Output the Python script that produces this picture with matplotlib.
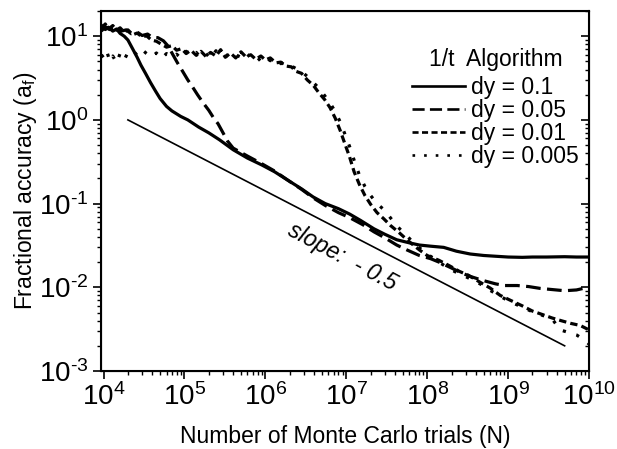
import matplotlib
matplotlib.use("Agg")
import matplotlib.pyplot as plt
from matplotlib.ticker import FixedLocator, NullFormatter, FuncFormatter
import numpy as np

plt.rcParams['font.family'] = ['Liberation Sans', 'DejaVu Sans']
plt.rcParams['mathtext.fontset'] = 'custom'
plt.rcParams['mathtext.rm'] = 'Liberation Sans'
plt.rcParams['mathtext.it'] = 'Liberation Sans:italic'
plt.rcParams['axes.unicode_minus'] = False

# dy = 0.1  (solid)
x_a = [9.4e3, 1.05e4, 1.15e4, 1.3e4, 1.45e4, 1.6e4, 1.8e4, 2.0e4, 2.3e4, 2.6e4, 2.9e4, 3.3e4, 3.8e4,
       4.4e4, 5.0e4, 6.0e4, 7.0e4, 9.0e4, 1.1e5, 1.5e5, 2.0e5, 2.7e5, 4.0e5, 6.0e5, 9.0e5, 1.3e6,
       1.9e6, 2.8e6, 3.9e6, 5.5e6, 8.0e6, 1.1e7, 1.5e7, 2.2e7, 3.0e7, 4.2e7, 6.0e7, 8.0e7, 1.1e8,
       1.6e8, 2.3e8, 3.4e8, 5.0e8, 7.0e8, 1.0e9, 1.5e9, 2.0e9, 3.0e9, 5.0e9, 7.0e9, 1.0e10]
y_a = [13.5, 12.0, 12.8, 11.5, 12.2, 10.8, 10.0, 9.0, 7.0, 5.6, 4.5, 3.6, 2.8,
       2.2, 1.8, 1.45, 1.28, 1.1, 1.0, 0.82, 0.70, 0.58, 0.44, 0.35, 0.29, 0.24,
       0.19, 0.15, 0.12, 0.10, 0.087, 0.075, 0.063, 0.050, 0.043, 0.037, 0.034, 0.032, 0.031,
       0.030, 0.027, 0.025, 0.024, 0.0235, 0.023, 0.0228, 0.023, 0.023, 0.0232, 0.023, 0.023]

# dy = 0.05  (dashed)
x_b = [9.4e3, 1.05e4, 1.2e4, 1.4e4, 1.6e4, 1.9e4, 2.2e4, 2.6e4, 3.0e4, 3.5e4, 4.0e4, 4.7e4, 5.5e4,
       6.3e4, 7.2e4, 8.2e4, 9.5e4, 1.1e5, 1.25e5, 1.45e5, 1.7e5, 2.0e5, 2.3e5, 2.6e5, 3.0e5, 3.4e5,
       4.0e5, 6.0e5, 9.0e5, 1.3e6, 1.9e6, 2.8e6, 3.9e6, 5.5e6, 8.0e6, 1.1e7, 1.6e7, 2.2e7, 3.0e7,
       4.2e7, 5.6e7, 8.0e7, 1.1e8, 1.4e8, 2.0e8, 2.6e8, 3.4e8, 5.0e8, 7.0e8, 9.0e8, 1.3e9, 1.8e9,
       2.5e9, 3.5e9, 5.0e9, 7.0e9, 8.5e9, 1.0e10]
y_b = [11.5, 13.0, 12.0, 12.6, 11.4, 11.9, 10.7, 11.2, 10.2, 10.6, 9.7, 9.6, 8.8,
       7.6, 6.0, 4.8, 3.8, 3.0, 2.5, 2.0, 1.6, 1.3, 1.05, 0.9, 0.7, 0.56,
       0.46, 0.37, 0.30, 0.245, 0.19, 0.148, 0.117, 0.095, 0.078, 0.068, 0.056, 0.046, 0.039,
       0.032, 0.028, 0.024, 0.022, 0.020, 0.017, 0.015, 0.0135, 0.012, 0.011, 0.0105, 0.0105, 0.0102,
       0.0097, 0.0094, 0.0091, 0.0093, 0.0097, 0.0102]

# dy = 0.01  (short dash)
x_c = [9.4e3, 1.05e4, 1.15e4, 1.3e4, 1.45e4, 1.6e4, 1.8e4, 2.0e4, 2.3e4, 2.6e4, 3.0e4, 3.4e4, 3.9e4,
       4.5e4, 5.2e4, 6.0e4, 7.0e4, 8.0e4, 9.2e4,
       1.05e5, 1.2e5, 1.4e5, 1.6e5, 1.85e5, 2.1e5, 2.45e5, 2.8e5, 3.2e5, 3.7e5, 4.3e5, 5.0e5, 5.7e5,
       6.6e5, 7.6e5, 8.8e5, 1.0e6, 1.15e6, 1.35e6, 1.55e6, 1.8e6, 2.1e6, 2.4e6, 2.8e6, 3.3e6, 3.9e6,
       4.6e6, 5.4e6, 6.3e6, 7.3e6, 8.4e6, 9.6e6, 1.1e7, 1.25e7, 1.45e7, 1.7e7, 2.0e7, 2.4e7, 2.9e7,
       3.5e7, 4.5e7, 6.0e7, 8.0e7, 1.0e8, 1.4e8, 1.9e8, 2.5e8, 3.2e8, 4.5e8, 6.0e8, 8.0e8, 1.1e9,
       1.5e9, 2.0e9, 2.7e9, 3.5e9, 4.5e9, 6.0e9, 7.8e9, 1.0e10]
y_c = [12.5, 14.0, 12.2, 13.4, 11.8, 12.6, 11.2, 11.9, 10.4, 10.9, 9.8, 10.1, 9.0,
       8.7, 8.0, 7.4, 7.7, 6.8, 7.1,
       6.2, 6.8, 5.9, 6.6, 5.7, 6.4, 5.8, 6.9, 5.6, 6.3, 5.5, 6.5, 5.7,
       6.0, 5.3, 5.8, 5.2, 5.5, 4.8, 4.9, 4.4, 4.3, 3.8, 3.6, 3.0, 2.6,
       2.1, 1.75, 1.4, 1.05, 0.75, 0.52, 0.36, 0.24, 0.17, 0.125, 0.098, 0.078, 0.066,
       0.055, 0.045, 0.035, 0.028, 0.024, 0.021, 0.018, 0.0155, 0.014, 0.0115, 0.0098, 0.0080, 0.0069,
       0.0060, 0.0052, 0.0047, 0.0043, 0.0040, 0.0037, 0.0035, 0.0031]

# dy = 0.005  (dotted)
x_d = [9.4e3, 1.02e4, 1.1e4, 1.2e4, 1.3e4, 1.45e4, 1.6e4, 1.8e4, 2.0e4, 2.3e4, 2.6e4, 3.0e4, 3.4e4,
       3.9e4, 4.5e4, 5.2e4, 6.0e4, 7.0e4, 8.0e4, 9.2e4,
       1.05e5, 1.2e5, 1.4e5, 1.6e5, 1.85e5, 2.1e5, 2.45e5, 2.8e5, 3.2e5, 3.7e5, 4.3e5, 5.0e5, 5.7e5,
       6.6e5, 7.6e5, 8.8e5, 1.0e6, 1.15e6, 1.35e6, 1.55e6, 1.8e6, 2.1e6, 2.4e6, 2.8e6, 3.3e6, 3.9e6,
       4.6e6, 5.4e6, 6.3e6, 7.3e6, 8.4e6, 9.6e6, 1.1e7, 1.25e7, 1.45e7, 1.7e7, 2.0e7, 2.4e7, 2.9e7,
       3.5e7, 4.3e7, 5.5e7, 7.0e7, 1.0e8, 1.4e8, 1.9e8, 2.5e8, 3.2e8, 4.5e8, 6.0e8, 8.0e8, 1.1e9,
       1.5e9, 2.0e9, 2.7e9, 3.5e9, 4.4e9, 5.5e9, 7.0e9, 8.5e9, 1.0e10]
y_d = [6.0, 5.4, 6.5, 5.0, 5.8, 4.8, 6.2, 5.2, 6.4, 6.8, 5.9, 6.9, 6.2,
       5.6, 6.3, 5.4, 6.2, 5.6, 6.1, 5.4,
       6.6, 5.9, 6.4, 5.5, 6.2, 5.4, 6.7, 5.9, 6.1, 5.4, 6.0, 5.6, 6.4,
       5.5, 5.9, 5.0, 5.6, 5.1, 5.3, 4.7, 4.9, 4.4, 4.1, 3.8, 3.3, 2.8,
       2.4, 1.95, 1.6, 1.25, 0.95, 0.68, 0.48, 0.33, 0.22, 0.16, 0.125, 0.1, 0.085,
       0.068, 0.053, 0.042, 0.033, 0.025, 0.02, 0.0165, 0.0145, 0.013, 0.011, 0.0092, 0.0078, 0.0066,
       0.0058, 0.0051, 0.0046, 0.0042, 0.0031, 0.0029, 0.0027, 0.0024, 0.0021]

# reference line, slope -0.5
x_ref = [2e4, 5e9]
y_ref = [1.0, 2e-3]

labels = ["dy = 0.1", "dy = 0.05", "dy = 0.01", "dy = 0.005"]
x_decades = [1e4, 1e5, 1e6, 1e7, 1e8, 1e9, 1e10]
y_decades = [1e-3, 1e-2, 1e-1, 1e0, 1e1]


def pow10(v, pos):
    e = int(round(np.log10(v)))
    s = str(e).replace('-', r'\text{-}')
    return r'$\mathregular{10^{%s}}$' % s


def minors(decades, lo, hi):
    out = []
    for d in [decades[0] / 10] + decades:
        for k in range(2, 10):
            if lo <= d * k <= hi:
                out.append(d * k)
    return out


fig = plt.figure(figsize=(6.17, 4.49), dpi=100)
ax = fig.add_axes([0.1637, 0.1737, 0.7909, 0.8018])

lw = 2.3
ax.plot(x_a, y_a, color='black', lw=lw, ls='-', label=labels[0])
ax.plot(x_b, y_b, color='black', lw=lw, ls=(0, (4.6, 2.0)), label=labels[1])
ax.plot(x_c, y_c, color='black', lw=lw, ls=(0, (2.3, 1.3)), label=labels[2])
ax.plot(x_d, y_d, color='black', lw=lw, ls=(0, (1, 3.4)), label=labels[3])
ax.plot(x_ref, y_ref, color='black', lw=1.2)

ax.text(9e6, 0.023, 'slope:  - 0.5', rotation=-28, rotation_mode='anchor',
        ha='center', va='center', fontsize=16.5, style='italic')

ax.set_xscale('log')
ax.set_yscale('log')
ax.set_xlim(9.3e3, 1e10)
ax.set_ylim(1e-3, 20)

ax.xaxis.set_major_locator(FixedLocator(x_decades))
ax.xaxis.set_minor_locator(FixedLocator(minors(x_decades, 9.3e3, 1e10)))
ax.yaxis.set_major_locator(FixedLocator(y_decades))
ax.yaxis.set_minor_locator(FixedLocator(minors(y_decades, 1e-3, 20)))
for axis in (ax.xaxis, ax.yaxis):
    axis.set_major_formatter(FuncFormatter(pow10))
    axis.set_minor_formatter(NullFormatter())

ax.tick_params(which='major', direction='out', length=6, width=1.2, labelsize=20, pad=3)
ax.tick_params(which='minor', direction='out', length=3, width=1.0)
ax.tick_params(top=False, right=False)
for s in ax.spines.values():
    s.set_linewidth(1.5)

# inward ticks on the right side
ax2 = ax.twinx()
ax2.set_yscale('log')
ax2.set_ylim(1e-3, 20)
ax2.yaxis.set_major_locator(FixedLocator(y_decades))
ax2.yaxis.set_minor_locator(FixedLocator(minors(y_decades, 1e-3, 20)))
ax2.yaxis.set_major_formatter(NullFormatter())
ax2.yaxis.set_minor_formatter(NullFormatter())
ax2.tick_params(which='major', direction='in', length=6, width=1.2, labelright=False)
ax2.tick_params(which='minor', direction='in', length=3, width=1.0, labelright=False)

ax.set_xlabel('Number of Monte Carlo trials (N)', fontsize=16.5)
ax.set_ylabel(r'Fractional accuracy (a$_{\mathregular{f}}$)', fontsize=16.5)
ax.xaxis.set_label_coords(0.5, -0.15)
ax.yaxis.set_label_coords(-0.128, 0.5)

leg = ax.legend(title='1/t  Algorithm', loc='upper right', bbox_to_anchor=(0.98, 0.898),
                frameon=False, fontsize=16.5, title_fontsize=16.5, handlelength=2.3,
                handletextpad=0.3, labelspacing=0.0, borderpad=0, borderaxespad=0)
leg._legend_box.sep = 4
for h in leg.legend_handles:
    h.set_linewidth(1.9)

fig.savefig('out.png', dpi=100)
